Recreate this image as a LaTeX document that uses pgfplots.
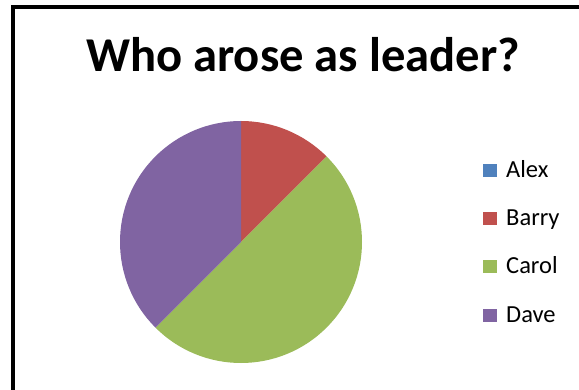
\documentclass[border=0pt]{standalone}
\usepackage{fontspec}
\setmainfont{Carlito}
\usepackage{pgfplots}
\usepackage{pgfplotstable}
\pgfplotsset{compat=1.18}
\definecolor{cAlex}{HTML}{4F81BD}
\definecolor{cBarry}{HTML}{C0504D}
\definecolor{cCarol}{HTML}{9BBB59}
\definecolor{cDave}{HTML}{8064A2}
\pgfplotstableread{
name value
Alex 0
Barry 1
Carol 4
Dave 3
}\piedata
\begin{document}
\begin{tikzpicture}[x=1pt,y=1pt]
\useasboundingbox (0,0) rectangle (579,389);
\begin{scope}
\clip (0,0) rectangle (579,389);
\draw[line width=4pt] (13,-20) -- (13,381.5) -- (600,381.5);
\end{scope}
\node[anchor=base,font=\bfseries\fontsize{48.6}{56}\selectfont] at (303,317) {Who arose as leader?};
\pgfplotstablegetelem{0}{value}\of\piedata \let\vA\pgfplotsretval
\pgfplotstablegetelem{1}{value}\of\piedata \let\vB\pgfplotsretval
\pgfplotstablegetelem{2}{value}\of\piedata \let\vC\pgfplotsretval
\pgfplotstablegetelem{3}{value}\of\piedata \let\vD\pgfplotsretval
\pgfmathsetmacro\tot{\vA+\vB+\vC+\vD}
\pgfmathsetmacro\sA{90}
\pgfmathsetmacro\eA{\sA-360*\vA/\tot}
\pgfmathsetmacro\eB{\eA-360*\vB/\tot}
\pgfmathsetmacro\eC{\eB-360*\vC/\tot}
\pgfmathsetmacro\eD{\eC-360*\vD/\tot}
\begin{axis}[at={(241pt,147pt)}, anchor=origin, scale only axis,
  width=242pt, height=242pt, xmin=-1, xmax=1, ymin=-1, ymax=1,
  hide axis, clip=false,
  legend style={draw=none, fill=none, at={(1.5,0.8264)}, anchor=north west,
    row sep=30.3pt, inner sep=0pt,
    nodes={inner sep=0pt, text height=14pt, text depth=4pt, anchor=base west,
      font=\fontsize{24.5}{28}\selectfont}},
  legend cell align=left,
  legend image code/.code={\fill[#1,draw=none] (0pt,0.5pt) rectangle (14pt,13.5pt);\path[draw=none] (0pt,0pt) -- (23pt,0pt);}]
\addlegendimage{cAlex}\addlegendentry{Alex}
\addlegendimage{cBarry}\addlegendentry{Barry}
\addlegendimage{cCarol}\addlegendentry{Carol}
\addlegendimage{cDave}\addlegendentry{Dave}
\fill[cBarry] (axis cs:0,0) -- (axis cs:{cos(\eA)},{sin(\eA)}) arc[start angle=\eA, end angle=\eB, radius=121pt] -- cycle;
\fill[cCarol] (axis cs:0,0) -- (axis cs:{cos(\eB)},{sin(\eB)}) arc[start angle=\eB, end angle=\eC, radius=121pt] -- cycle;
\fill[cDave] (axis cs:0,0) -- (axis cs:{cos(\eC)},{sin(\eC)}) arc[start angle=\eC, end angle=\eD, radius=121pt] -- cycle;
\end{axis}
\end{tikzpicture}
\end{document}
